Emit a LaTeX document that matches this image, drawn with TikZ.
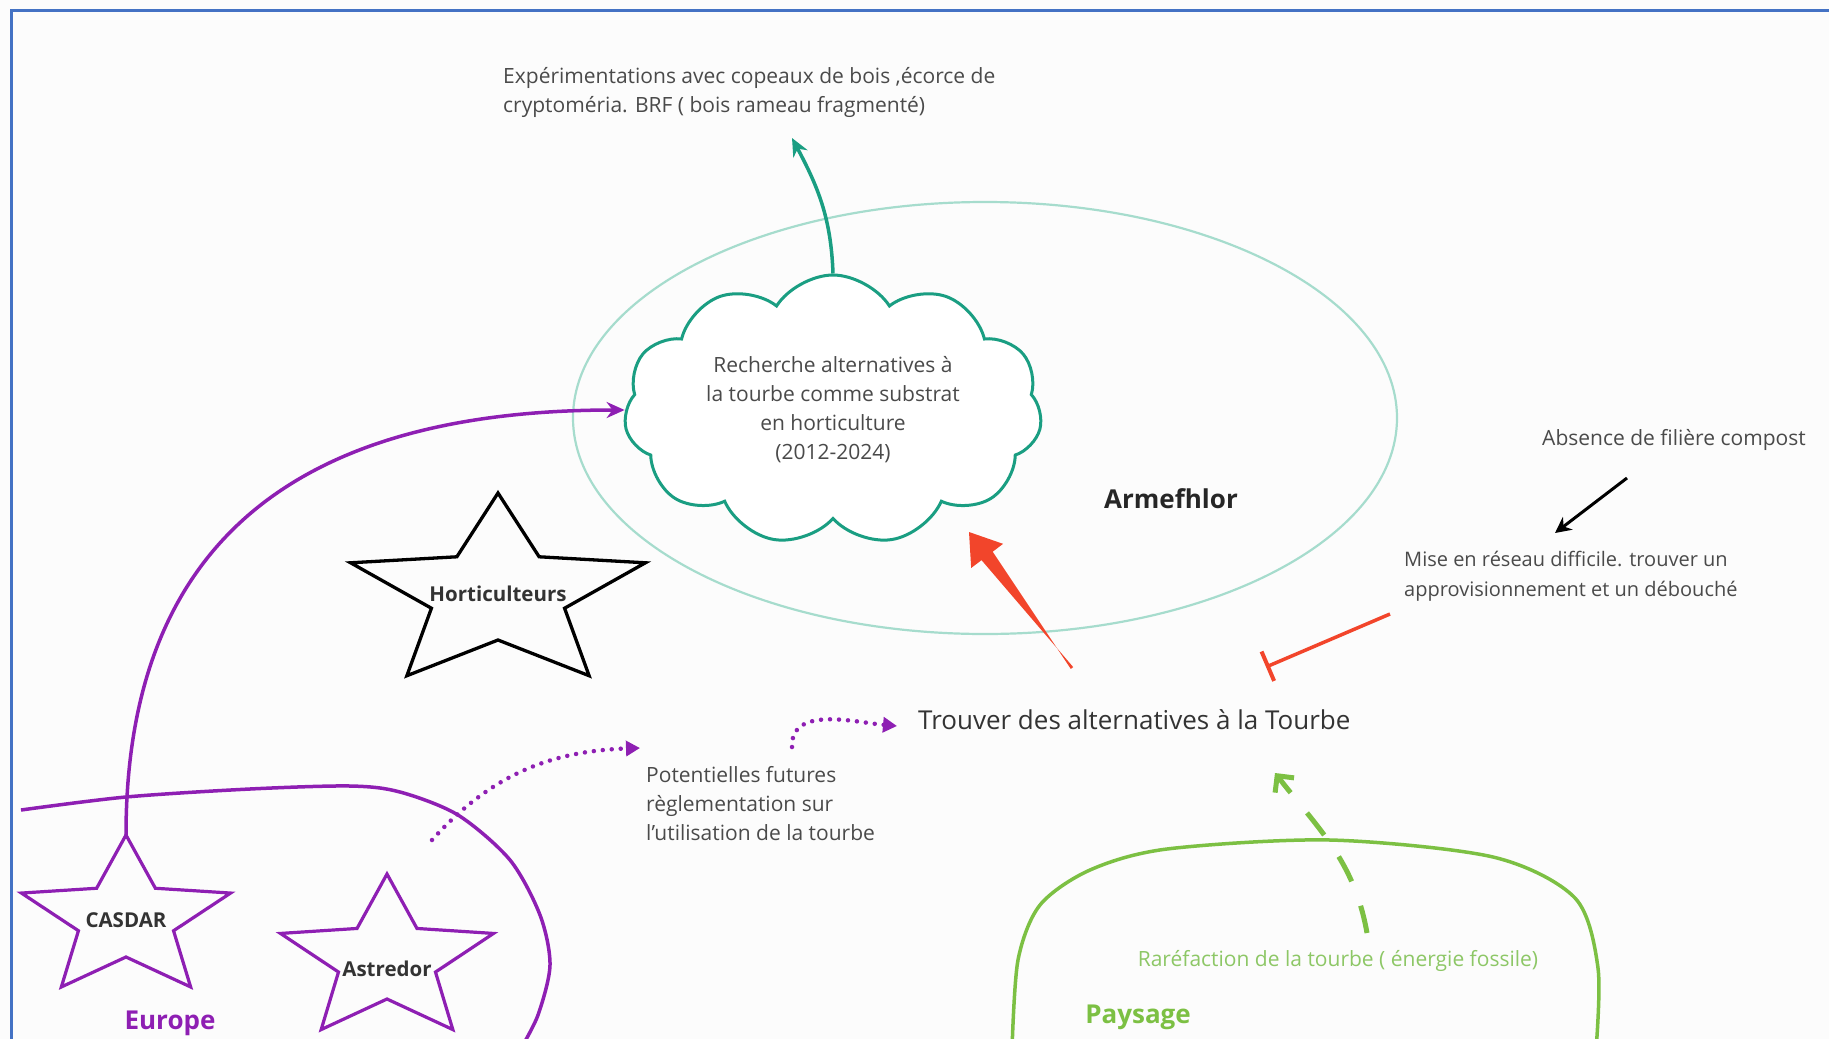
\documentclass[tikz,border=0pt]{standalone}
\usepackage{fontspec}
\setmainfont{Open Sans}
\usepackage{tikz}
\usetikzlibrary{shapes.geometric, shapes.symbols, arrows.meta, positioning, calc}

\definecolor{frameblue}{HTML}{4472C4}
\definecolor{textgray}{HTML}{4A4A4A}
\definecolor{tealc}{HTML}{1A9E82}
\definecolor{ringteal}{HTML}{A6DCCD}
\definecolor{purplec}{HTML}{8E1FB3}
\definecolor{redc}{HTML}{F2452B}
\definecolor{greenc}{HTML}{7CC043}
\definecolor{lightgreen}{HTML}{8DC766}

\tikzset{
  note/.style = {
    text=textgray, align=left, inner sep=1pt,
    font=\fontsize{21}{29}\selectfont
  },
  maintext/.style = {
    text=black!80, inner sep=1pt, font=\fontsize{26}{30}\selectfont
  },
  startext/.style = {
    text=black!80, inner sep=1pt, font=\bfseries\fontsize{20.5}{24}\selectfont
  },
  grouplabel/.style = {
    inner sep=1pt, font=\bfseries\fontsize{26}{30}\selectfont
  },
  cloudbox/.style = {
    cloud, cloud puffs=11, cloud puff arc=115, cloud ignores aspect,
    draw=tealc, line width=3, fill=white,
    minimum width=418, minimum height=270, align=center,
    text=textgray, font=\fontsize{21}{29}\selectfont
  },
  armefring/.style = {
    ellipse, draw=ringteal, line width=2.2,
    minimum width=824, minimum height=432
  },
  blackstar/.style = {draw=black, line width=3.3},
  purplestar/.style = {draw=purplec, line width=3.2},
  tealarrow/.style = {draw=tealc, line width=3.5, -{Stealth[length=18pt,width=16pt]}},
  purplearrow/.style = {draw=purplec, line width=3.5, -{Stealth[length=18pt,width=16pt]}},
  dotarrow/.style = {draw=purplec, line width=4.5, line cap=round,
    dash pattern=on 0pt off 9pt, -{Triangle[length=14pt,width=15pt]}},
  greendash/.style = {draw=greenc, line width=5,
    dash pattern=on 28pt off 26pt, -{Straight Barb[length=12pt,width=24pt,line width=5pt]}},
  blockline/.style = {draw=redc, line width=3.5, -{Bar[width=32pt,line width=4pt]}},
  blackarrow/.style = {draw=black, line width=3, -{Stealth[length=16pt,width=16pt]}}
}

% flattened five-pointed star: centre, outer radii, inner radii, style
\newcommand{\flatstar}[6]{%
  \draw[#6, shift={#1}] (90:#2 and #3)
    \foreach \a in {126,198,270,342,54} {-- (\a:#4 and #5) -- (\a+36:#2 and #3)} -- cycle;}

\begin{document}
\begin{tikzpicture}[x=1pt, y=1pt]
  \useasboundingbox (0,0) rectangle (1829,-1039);
  \clip (0,0) rectangle (1829,-1039);
  \fill[white!99!black] (0,0) rectangle (1829,-1039);
  \draw[frameblue, line width=3] (11,-10) rectangle (1880,-1090);

  % Armefhlor and its cloud
  \node[armefring] (armef) at (985,-418) {};
  \node[cloudbox] (cloud) at (833,-410)
    {Recherche alternatives à\\la tourbe comme substrat\\en horticulture\\(2012-2024)};
  \node[grouplabel, text=black!85] (armeflabel) at (1171,-499) {Armefhlor};

  % Regions
  \draw[purplec, line width=3.5] plot[smooth] coordinates
    {(21,-810) (126,-797) (250,-789) (350,-786) (400,-792) (458,-815)
     (510,-860) (540,-915) (550,-965) (538,-1015) (520,-1050)};
  \draw[greenc, line width=3.5] plot[smooth] coordinates
    {(1012,-1050) (1018,-960) (1040,-905) (1090,-870) (1167,-849)
     (1330,-840) (1493,-857) (1575,-898) (1598,-968) (1596,-1050)};
  \node[grouplabel, text=purplec] (europe) at (170,-1023) {Europe};
  \node[grouplabel, text=greenc] (paysage) at (1138,-1017) {Paysage};

  % Actors
  \flatstar{(498,-594)}{155}{101}{70}{46}{blackstar}
  \flatstar{(126,-919)}{110}{84}{50}{38}{purplestar}
  \flatstar{(387,-960)}{112}{86}{51}{39}{purplestar}
  \node[startext] (horti) at (498,-594) {Horticulteurs};
  \node[startext] (casdar) at (126,-920) {CASDAR};
  \node[startext] (astredor) at (387,-969) {Astredor};

  % Texts
  \node[note, anchor=west] (expe) at (502,-92)
    {Expérimentations avec copeaux de bois ,écorce de\\cryptoméria. BRF ( bois rameau fragmenté)};
  \node[note, anchor=west] (absence) at (1541,-440) {Absence de filière compost};
  \node[note, anchor=west, font=\fontsize{20}{30}\selectfont] (mise) at (1403,-576)
    {Mise en réseau difficile. trouver un\\approvisionnement et un débouché};
  \node[note, anchor=west] (potent) at (645,-804)
    {Potentielles futures\\règlementation sur\\l'utilisation de la tourbe};
  \node[maintext, anchor=west] (trouver) at (917,-720) {Trouver des alternatives à la Tourbe};
  \node[note, text=lightgreen] (raref) at (1338,-961) {Raréfaction de la tourbe ( énergie fossile)};

  % Connector ends
  \coordinate (expetip) at (792,-138);
  \coordinate (casdartop) at (126,-835);
  \coordinate (dotA) at (432,-840);
  \coordinate (potenttip) at (640,-748);
  \coordinate (dotB) at (792,-747);
  \coordinate (trouvertip) at (897,-726);
  \coordinate (redtail) at (1072,-668);
  \coordinate (redtip) at (969,-532);
  \coordinate (misestart) at (1390,-614);
  \coordinate (misebar) at (1266,-667);
  \coordinate (absstart) at (1627,-478);
  \coordinate (abstip) at (1555,-533);
  \coordinate (rarefstart) at (1367,-933);
  \coordinate (rareftip) at (1275,-773);

  % Links
  \draw[tealarrow] (cloud.north) to[out=92, in=-62] (expetip);
  \draw[purplearrow] (casdartop) .. controls (126,-540) and (300,-410) .. (cloud.west);
  \draw[dotarrow] (dotA) to[out=48, in=182] (potenttip);
  \draw[dotarrow] (dotB) to[out=92, in=175] (trouvertip);
  \coordinate (redbase) at ($(redtip)!30pt!(redtail)$);
  \fill[redc] ($(redtail)!1.5pt!90:(redtip)$) -- ($(redbase)!7pt!-90:(redtip)$)
    -- ($(redbase)!20pt!-90:(redtip)$) -- (redtip) -- ($(redbase)!20pt!90:(redtip)$)
    -- ($(redbase)!7pt!90:(redtip)$) -- ($(redtail)!1.5pt!-90:(redtip)$) -- cycle;
  \draw[blockline] (misestart) -- (misebar);
  \draw[blackarrow] (absstart) -- (abstip);
  \draw[greendash] (rarefstart) to[out=100, in=-52] (rareftip);
\end{tikzpicture}
\end{document}
